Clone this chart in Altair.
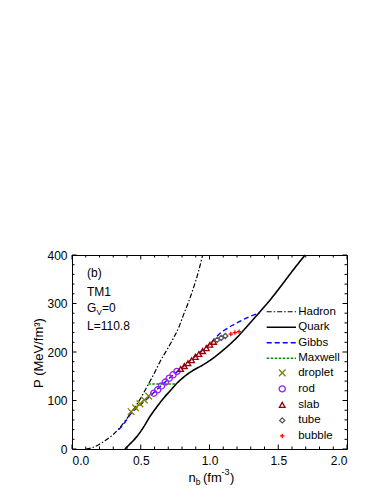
import altair as alt
import pandas as pd

# ---------------- data ----------------
hadron_n = [0.10, 0.15, 0.20, 0.25, 0.30, 0.35, 0.40, 0.45, 0.50, 0.558, 0.60, 0.64, 0.70, 0.737, 0.78, 0.81, 0.85, 0.882, 0.92, 0.95]
hadron_p = [0, 3, 10, 19, 30, 45, 63, 83, 105, 135, 157, 180, 209, 228, 253, 276, 305, 331, 366, 400]

quark_n = [0.385, 0.42, 0.47, 0.52, 0.567, 0.62, 0.664, 0.72, 0.761, 0.82, 0.88, 0.95, 1.02, 1.10, 1.20, 1.28, 1.367, 1.44, 1.52, 1.60, 1.695]
quark_p = [0, 10, 25, 45, 67, 88, 104, 122, 135, 150, 162, 173, 186, 204, 230, 255, 283, 307, 336, 366, 400]

gibbs_n = [0.34, 0.38, 0.42, 0.46, 0.50, 0.55, 0.59, 0.65, 0.70, 0.75, 0.78, 0.85, 0.90, 0.95, 1.00, 1.03, 1.064, 1.12, 1.18, 1.246, 1.30, 1.367]
gibbs_p = [40, 53, 70, 82, 92, 104, 115, 131, 144, 156, 163, 180, 192, 204, 216, 224, 235, 247, 257, 267, 274, 281]

maxwell_n = [0.555, 0.757]
maxwell_p = [134, 134]

droplet_n = [0.43, 0.462, 0.494, 0.526, 0.558]
droplet_p = [77, 85, 93, 101, 109]
rod_n = [0.595, 0.623, 0.651, 0.679, 0.707, 0.735, 0.763]
rod_p = [115, 122, 130, 138, 146, 153, 160]
slab_n = [0.79, 0.817, 0.843, 0.87, 0.897, 0.923, 0.95, 0.977, 1.003, 1.03]
slab_p = [165, 171, 177, 183, 190, 196, 202, 208, 215, 221]
tube_n = [1.055, 1.085, 1.115]
tube_p = [225, 229, 233]
bubble_n = [1.155, 1.185, 1.215]
bubble_p = [237, 240, 242]

phases = ["droplet", "rod", "slab", "tube", "bubble"]
curves = ["Hadron", "Quark", "Gibbs", "Maxwell"]

x_major = [0, 0.5, 1.0, 1.5, 2.0]
x_minor = [0.1, 0.2, 0.3, 0.4, 0.6, 0.7, 0.8, 0.9, 1.1, 1.2, 1.3, 1.4, 1.6, 1.7, 1.8, 1.9]
y_major = [0, 100, 200, 300, 400]
y_minor = [20, 40, 60, 80, 120, 140, 160, 180, 220, 240, 260, 280, 320, 340, 360, 380]

# legend placement (data units)
leg_line_x = [1.416, 1.629]
leg_sym_x = 1.529
leg_text_x = 1.645
leg_curve_y = [283, 251, 219, 187]
leg_phase_y = [157, 124, 91, 59, 27]

# ---------------- styling ----------------
W, H = 275, 194
FONT = "Liberation Sans"
xs = alt.Scale(domain=[0, 2], nice=False, zero=False)
ys = alt.Scale(domain=[0, 400], nice=False, zero=False)

X_AXIS = alt.Axis(values=x_major, format=".1f", title=None, ticks=False, tickSize=0, domain=False, grid=False,
                  labelPadding=6, labelFontSize=12, labelFont=FONT, labelColor="black")
Y_AXIS = alt.Axis(values=y_major, format="d", title=None, ticks=False, tickSize=0, domain=False, grid=False,
                  labelPadding=5, labelFontSize=12, labelFont=FONT, labelColor="black")


def X(f):
    return alt.X(f, scale=xs, axis=X_AXIS, title=None)


def Y(f):
    return alt.Y(f, scale=ys, axis=Y_AXIS, title=None)


curve_style = {
    "Hadron": dict(color="black", dash=[5, 2, 1.5, 2], width=1.2),
    "Quark": dict(color="black", dash=[1, 0], width=1.6),
    "Gibbs": dict(color="#0000ff", dash=[5, 3], width=1.4),
    "Maxwell": dict(color="#008f00", dash=[2.5, 1.5], width=1.4),
}
phase_colors = ["#808000", "#9a1ef5", "#990000", "#555555", "#ff0000"]
phase_shapes = ["M-1,-1L1,1M-1,1L1,-1", "circle", "triangle-up", "diamond", "M-1,0L1,0M0,-1L0,1"]
phase_sizes = [44, 20, 30, 26, 44]

color_scale = alt.Scale(domain=phases, range=phase_colors)
shape_scale = alt.Scale(domain=phases, range=phase_shapes)
size_scale = alt.Scale(domain=phases, range=phase_sizes)

layers = []

# inward ticks on all four sides
def xticks(vals, L):
    df = pd.DataFrame({"v": vals})
    b = alt.Chart(df).mark_rule(color="black", strokeWidth=1).encode(
        x=X("v:Q"), y=alt.value(H), y2=alt.value(H - L))
    t = alt.Chart(df).mark_rule(color="black", strokeWidth=1).encode(
        x=X("v:Q"), y=alt.value(0), y2=alt.value(L))
    return [b, t]


def yticks(vals, L):
    df = pd.DataFrame({"v": vals})
    l = alt.Chart(df).mark_rule(color="black", strokeWidth=1).encode(
        y=Y("v:Q"), x=alt.value(0), x2=alt.value(L))
    r = alt.Chart(df).mark_rule(color="black", strokeWidth=1).encode(
        y=Y("v:Q"), x=alt.value(W), x2=alt.value(W - L))
    return [l, r]


layers += xticks(x_major, 4.5) + xticks(x_minor, 2.5) + yticks(y_major, 4.5) + yticks(y_minor, 2.5)

# curves
curve_data = {
    "Hadron": (hadron_n, hadron_p),
    "Quark": (quark_n, quark_p),
    "Gibbs": (gibbs_n, gibbs_p),
    "Maxwell": (maxwell_n, maxwell_p),
}
for name in ["Hadron", "Quark", "Maxwell", "Gibbs"]:
    n, p = curve_data[name]
    st = curve_style[name]
    df = pd.DataFrame({"n": n, "P": p})
    layers.append(
        alt.Chart(df).mark_line(color=st["color"], strokeDash=st["dash"], strokeWidth=st["width"],
                                interpolate="monotone").encode(
            x=X("n:Q"), y=Y("P:Q"), order="n:Q")
    )

# pasta phase markers
rows = []
for ph, n, p in [("droplet", droplet_n, droplet_p), ("rod", rod_n, rod_p), ("slab", slab_n, slab_p),
                 ("tube", tube_n, tube_p), ("bubble", bubble_n, bubble_p)]:
    for a, b in zip(n, p):
        rows.append({"n": a, "P": b, "phase": ph})
pts = pd.DataFrame(rows)
layers.append(
    alt.Chart(pts).mark_point(filled=False, strokeWidth=1.3, opacity=1).encode(
        x=X("n:Q"), y=Y("P:Q"),
        color=alt.Color("phase:N", scale=color_scale, legend=None),
        shape=alt.Shape("phase:N", scale=shape_scale, legend=None),
        size=alt.Size("phase:N", scale=size_scale, legend=None),
    )
)

# legend: curve samples
for name, yv in zip(curves, leg_curve_y):
    st = curve_style[name]
    df = pd.DataFrame({"x1": [leg_line_x[0]], "x2": [leg_line_x[1]], "P": [yv]})
    layers.append(
        alt.Chart(df).mark_rule(color=st["color"], strokeDash=st["dash"], strokeWidth=st["width"]).encode(
            x=X("x1:Q"), x2="x2:Q", y=Y("P:Q"))
    )
# legend: marker samples
leg_pts = pd.DataFrame({"n": [leg_sym_x] * len(phases), "P": leg_phase_y, "phase": phases})
layers.append(
    alt.Chart(leg_pts).mark_point(filled=False, strokeWidth=1.3, opacity=1).encode(
        x=X("n:Q"), y=Y("P:Q"),
        color=alt.Color("phase:N", scale=color_scale, legend=None),
        shape=alt.Shape("phase:N", scale=shape_scale, legend=None),
        size=alt.Size("phase:N", scale=size_scale, legend=None),
    )
)
# legend: labels
leg_txt = pd.DataFrame({"n": [leg_text_x] * (len(curves) + len(phases)),
                        "P": leg_curve_y + leg_phase_y, "label": curves + phases})
layers.append(
    alt.Chart(leg_txt).mark_text(align="left", baseline="middle", fontSize=11.5, font=FONT, color="black").encode(
        x=X("n:Q"), y=Y("P:Q"), text="label:N")
)


# annotations and axis titles (pixel offsets from plot origin)
def txt(s, x, y, size=12, angle=0, align="left", baseline="alphabetic"):
    kw = dict(align=align, baseline=baseline, fontSize=size, font=FONT, color="black", text=s)
    if angle:
        kw["angle"] = angle
    return alt.Chart(pd.DataFrame({"a": [0]})).mark_text(**kw).encode(x=alt.value(x), y=alt.value(y))


layers += [
    txt("(b)", 15, 22),
    txt("TM1", 15, 40.5),
    txt("G", 15, 57),
    txt("V", 24.5, 60, size=8),
    txt("=0", 30, 57),
    txt("L=110.8", 15, 75),
    # x title
    txt("n", 116.5, 226.5, size=13),
    txt("b", 123.8, 229.8, size=8.5),
    txt("(fm", 131, 226.5, size=13),
    txt("-3", 149.6, 219.5, size=9),
    txt(")", 158, 226.5, size=13),
    # y title
    txt("P (MeV/fm³)", -29, 98, size=13, angle=270, align="center"),
]

chart = alt.layer(*layers).properties(
    width=W, height=H,
    autosize=alt.AutoSizeParams(type="none"),
    padding={"left": 64, "top": 247, "right": 27, "bottom": 37},
).configure_view(stroke="black", strokeWidth=1)

chart.save("out.html", embed_options={"renderer": "svg", "actions": False})
